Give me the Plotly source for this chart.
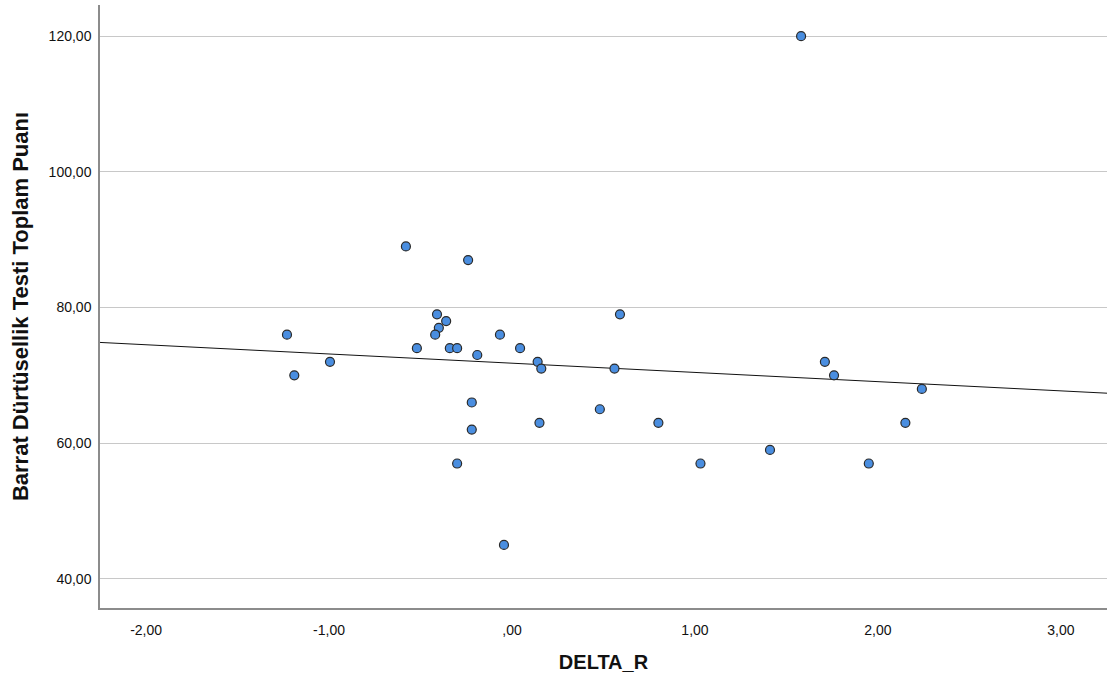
import numpy as np
import plotly.graph_objects as go

delta_r = [-1.23, -1.19, -0.995, -0.58, -0.52, -0.41, -0.40, -0.42, -0.36, -0.34, -0.30,
           -0.24, -0.19, -0.22, -0.22, -0.30, -0.066, -0.044, 0.044, 0.14, 0.16, 0.15,
           0.48, 0.56, 0.59, 0.80, 1.03, 1.41, 1.58, 1.71, 1.76, 1.95, 2.15, 2.24]
barratt = [76, 70, 72, 89, 74, 79, 77, 76, 78, 74, 74,
           87, 73, 66, 62, 57, 76, 45, 74, 72, 71, 63,
           65, 71, 79, 63, 57, 59, 120, 72, 70, 57, 63, 68]

x_ticks = [-2, -1, 0, 1, 2, 3]
x_tick_labels = ["-2,00", "-1,00", ",00", "1,00", "2,00", "3,00"]
y_ticks = [40, 60, 80, 100, 120]
y_tick_labels = ["40,00", "60,00", "80,00", "100,00", "120,00"]

x_range = [-2.252, 3.252]
y_range = [35.7, 124.6]

slope, intercept = np.polyfit(delta_r, barratt, 1)
fit_x = np.array(x_range)
fit_y = slope * fit_x + intercept

fig = go.Figure()
fig.add_trace(go.Scatter(x=fit_x, y=fit_y, mode="lines",
                         line=dict(color="#111111", width=1), hoverinfo="skip"))
fig.add_trace(go.Scatter(x=delta_r, y=barratt, mode="markers",
                         marker=dict(size=9, color="#4a8ee0",
                                     line=dict(color="#2a2a2a", width=1.2))))

fig.update_layout(
    width=1112, height=684,
    margin=dict(l=100, r=5, t=5, b=76),
    paper_bgcolor="white", plot_bgcolor="white",
    showlegend=False,
    font=dict(family="Liberation Sans, Arial, sans-serif", color="#111111"),
)
fig.update_xaxes(range=x_range, tickvals=x_ticks, ticktext=x_tick_labels,
                 showgrid=False, zeroline=False, showline=True, linecolor="#8c8c8c",
                 linewidth=1.5, ticks="", tickfont=dict(size=14), ticklabelstandoff=8,
                 title=dict(text="<b>DELTA_R</b>", font=dict(size=20), standoff=18))
fig.update_yaxes(range=y_range, tickvals=y_ticks, ticktext=y_tick_labels,
                 showgrid=True, gridcolor="#c8c8c8", gridwidth=1.2, zeroline=False,
                 showline=True, linecolor="#8c8c8c", linewidth=1.5, ticks="",
                 tickfont=dict(size=14), ticklabelstandoff=4,
                 title=dict(text="<b>Barrat Dürtüsellik Testi Toplam Puanı</b>",
                            font=dict(size=22), standoff=14))

fig.write_html("out.html")
